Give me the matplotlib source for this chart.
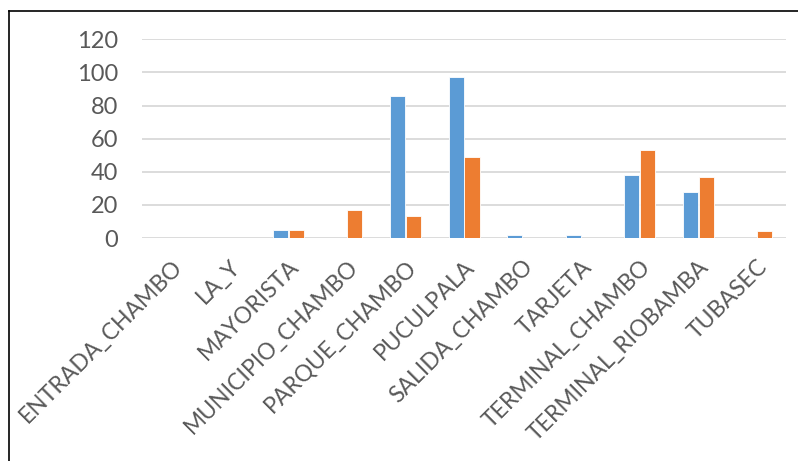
import matplotlib.pyplot as plt
import numpy as np
from matplotlib.lines import Line2D

plt.rcParams['font.family'] = ['Lato', 'DejaVu Sans']

paradas = ['ENTRADA_CHAMBO', 'LA_Y', 'MAYORISTA', 'MUNICIPIO_CHAMBO',
           'PARQUE_CHAMBO', 'PUCULPALA', 'SALIDA_CHAMBO', 'TARJETA',
           'TERMINAL_CHAMBO', 'TERMINAL_RIOBAMBA', 'TUBASEC']
serie_1 = [0, 0, 5, 0, 86, 97, 2, 2, 38, 28, 0]
serie_2 = [0, 0, 5, 17, 13, 49, 0, 0, 53, 37, 4]

azul = '#5B9BD5'
naranja = '#ED7D31'
gris = '#595959'

fig = plt.figure(figsize=(7.98, 4.61), dpi=100)
ax = fig.add_axes([0.178, 0.4837, 0.807, 0.4311])

x = np.arange(len(paradas))
ancho = 0.26
ax.bar(x - 0.135, serie_1, ancho, color=azul, edgecolor='white', linewidth=0.6, zorder=3)
ax.bar(x + 0.135, serie_2, ancho, color=naranja, edgecolor='white', linewidth=0.6, zorder=3)

ax.set_xlim(-0.5, len(paradas) - 0.5)
ax.set_ylim(0, 120)
ax.set_yticks(range(0, 121, 20))
ax.grid(axis='y', color='#D9D9D9', linewidth=1.3, zorder=0)
for s in ax.spines.values():
    s.set_visible(False)

ax.tick_params(axis='y', length=0, pad=17, labelsize=17, labelcolor=gris)
ax.tick_params(axis='x', length=0, pad=13, labelsize=16.5, labelcolor=gris)
ax.set_xticks(x)
ax.set_xticklabels(paradas, rotation=45, ha='right', rotation_mode='anchor')

# marco del recuadro (solo borde izquierdo y superior)
fig.add_artist(Line2D([9 / 798, 9 / 798], [0, 1 - 11 / 461], color='black', linewidth=1.2))
fig.add_artist(Line2D([9 / 798, 1], [1 - 11 / 461, 1 - 11 / 461], color='black', linewidth=1.2))

fig.savefig('out.png', dpi=100)
